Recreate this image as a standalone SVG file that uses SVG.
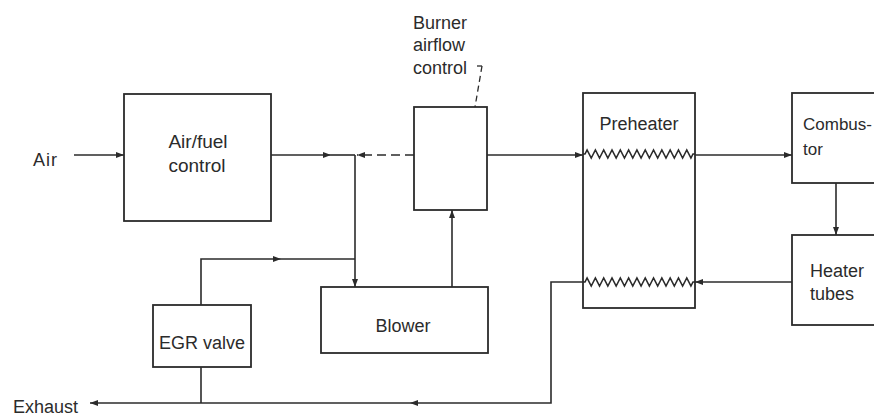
<svg xmlns="http://www.w3.org/2000/svg" width="874" height="418" viewBox="0 0 874 418">
<style>
.box{fill:none;stroke:#2b2b2b;stroke-width:1.8}
.ln{fill:none;stroke:#2b2b2b;stroke-width:1.6}
.dash{stroke-dasharray:9,5}
.lead{fill:none;stroke:#2b2b2b;stroke-width:1.3;stroke-dasharray:6,4}
text{font-family:"Liberation Sans",Arial,sans-serif;font-size:18px;fill:#2b2b2b}
.m{text-anchor:middle}
</style>
<defs>
<marker id="arr" viewBox="0 0 8 6" refX="8" refY="3" markerWidth="8" markerHeight="6" markerUnits="userSpaceOnUse" orient="auto">
<path d="M0,0 L8,3 L0,6 z" fill="#2b2b2b"/>
</marker>
</defs>
<rect width="874" height="418" fill="#fff"/>

<g id="air-label"><text x="33" y="166" letter-spacing="1">Air</text></g>
<g id="exhaust-label"><text x="13" y="413">Exhaust</text></g>

<g id="airfuel">
<rect class="box" x="124" y="94" width="147" height="127"/>
<text class="m" x="198" y="148" style="font-size:19px">Air/fuel</text>
<text class="m" x="197" y="172" style="font-size:19px">control</text>
</g>

<g id="burner">
<rect class="box" x="414" y="107" width="73" height="103"/>
<text x="413" y="29">Burner</text>
<text x="413" y="51">airflow</text>
<text x="413" y="74">control</text>
<path class="ln" d="M477,66 H482" style="stroke-width:1.3"/>
<path class="lead" d="M482,66 L475,107"/>
</g>

<g id="preheater">
<rect class="box" x="583" y="93" width="112" height="215"/>
<text class="m" x="639" y="130">Preheater</text>
<path class="ln" d="M583,154 h2 l2.077,-4 l4.154,8 l2.077,-4 l2.077,-4 l4.154,8 l2.077,-4 l2.077,-4 l4.154,8 l2.077,-4 l2.077,-4 l4.154,8 l2.077,-4 l2.077,-4 l4.154,8 l2.077,-4 l2.077,-4 l4.154,8 l2.077,-4 l2.077,-4 l4.154,8 l2.077,-4 l2.077,-4 l4.154,8 l2.077,-4 l2.077,-4 l4.154,8 l2.077,-4 l2.077,-4 l4.154,8 l2.077,-4 l2.077,-4 l4.154,8 l2.077,-4 l2.077,-4 l4.154,8 l2.077,-4 l2.077,-4 l4.154,8 l2.077,-4 h2"/>
<path class="ln" d="M583,282 h2 l2.077,-4 l4.154,8 l2.077,-4 l2.077,-4 l4.154,8 l2.077,-4 l2.077,-4 l4.154,8 l2.077,-4 l2.077,-4 l4.154,8 l2.077,-4 l2.077,-4 l4.154,8 l2.077,-4 l2.077,-4 l4.154,8 l2.077,-4 l2.077,-4 l4.154,8 l2.077,-4 l2.077,-4 l4.154,8 l2.077,-4 l2.077,-4 l4.154,8 l2.077,-4 l2.077,-4 l4.154,8 l2.077,-4 l2.077,-4 l4.154,8 l2.077,-4 l2.077,-4 l4.154,8 l2.077,-4 l2.077,-4 l4.154,8 l2.077,-4 h2"/>
</g>

<g id="combustor">
<rect class="box" x="792" y="93" width="100" height="90"/>
<text x="803" y="130" style="font-size:17px">Combus-</text>
<text x="803" y="155" style="font-size:17px">tor</text>
</g>

<g id="heater-tubes">
<rect class="box" x="792" y="235" width="100" height="90"/>
<text x="810" y="277">Heater</text>
<text x="810" y="300">tubes</text>
</g>

<g id="blower">
<rect class="box" x="321" y="287" width="167" height="66"/>
<text class="m" x="403" y="332">Blower</text>
</g>

<g id="egr-valve">
<rect class="box" x="153" y="305" width="98" height="62"/>
<text class="m" x="202" y="349">EGR valve</text>
</g>

<g id="connectors">
<path class="ln" d="M74,155 H124" marker-end="url(#arr)"/>
<path class="ln" d="M271,155 H331" marker-end="url(#arr)"/>
<path class="ln" d="M331,155 H355"/>
<path class="ln" d="M355,155 V287" marker-end="url(#arr)"/>
<path class="ln dash" d="M414,155 H357" marker-end="url(#arr)"/>
<path class="ln" d="M487,155 H583" marker-end="url(#arr)"/>
<path class="ln" d="M695,155 H792" marker-end="url(#arr)"/>
<path class="ln" d="M836,183 V235" marker-end="url(#arr)"/>
<path class="ln" d="M792,282 H695" marker-end="url(#arr)"/>
<path class="ln" d="M583,282 H551 V403 H410" marker-end="url(#arr)"/>
<path class="ln" d="M410,403 H90" marker-end="url(#arr)"/>
<path class="ln" d="M201,367 V403"/>
<path class="ln" d="M201,305 V259 H281" marker-end="url(#arr)"/>
<path class="ln" d="M281,259 H355"/>
<path class="ln" d="M452,287 V210" marker-end="url(#arr)"/>
</g>
</svg>
